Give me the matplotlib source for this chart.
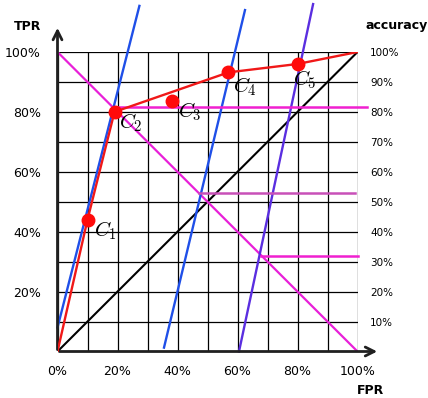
import numpy as np
import matplotlib.pyplot as plt

plt.rcParams['mathtext.fontset'] = 'cm'

# classifier points (FPR, TPR)
names = ['$C_1$', '$C_2$', '$C_3$', '$C_4$', '$C_5$']
fpr = [0.10, 0.19, 0.38, 0.57, 0.80]
tpr = [0.44, 0.80, 0.837, 0.932, 0.96]
label_dx = [0.02, 0.015, 0.02, 0.015, -0.015]
label_dy = [-0.075, -0.075, -0.075, -0.085, -0.09]

# convex hull of the ROC points
hull_x = [0.0, 0.10, 0.19, 0.57, 0.80, 1.0]
hull_y = [0.0, 0.44, 0.80, 0.932, 0.96, 1.0]

# iso-performance lines: (x start, y start, x end, y end)
iso_lines = [
    (0.0, 0.08, 0.273, 1.154, '#1f4fe8'),
    (0.355, 0.013, 0.625, 1.14, '#1f4fe8'),
    (0.605, 0.0, 0.852, 1.16, '#5a2ee0'),
]

# accuracy levels marked with horizontal lines (start x, level, end x)
acc_lines = [
    (0.19, 0.818, 1.03, '#f020d0'),
    (0.47, 0.53, 0.99, '#c850b8'),
    (0.677, 0.32, 1.0, '#f020d0'),
]

ticks = np.arange(0, 1.01, 0.1)
tick_labels_xy = ['0%', '20%', '40%', '60%', '80%', '100%']
acc_labels = ['10%', '20%', '30%', '40%', '50%', '60%', '70%', '80%', '90%', '100%']

fig = plt.figure(figsize=(4.28, 3.98), dpi=100)
ax = fig.add_axes([57.5 / 428, 1 - 351.5 / 398, 300 / 428, 299.5 / 398])
ax.set_xlim(0, 1)
ax.set_ylim(0, 1)
for s in ax.spines.values():
    s.set_visible(False)

# grid
for t in ticks:
    ax.plot([t, t], [0, 1], color='black', lw=0.9, zorder=1)
    ax.plot([0, 1], [t, t], color='black', lw=0.9, zorder=1)

ax.set_xticks(np.arange(0, 1.01, 0.2))
ax.set_xticklabels(tick_labels_xy)
ax.set_yticks(np.arange(0, 1.01, 0.2))
ax.set_yticklabels([''] + tick_labels_xy[1:])
ax.tick_params(length=0, labelsize=9)
ax.tick_params(axis='x', pad=10)
ax.tick_params(axis='y', pad=12)

ax2 = ax.twinx()
ax2.set_ylim(0, 1)
for s in ax2.spines.values():
    s.set_visible(False)
ax2.set_yticks(ticks[1:])
ax2.set_yticklabels(acc_labels)
ax2.tick_params(length=0, labelsize=7.5, pad=9)

# diagonals
ax.plot([0, 1], [0, 1], color='black', lw=1.5, zorder=2)
ax.plot([0, 1], [1, 0], color='#e820d8', lw=1.6, zorder=2)

for x0, y0, x1, y1, c in iso_lines:
    ax.plot([x0, x1], [y0, y1], color=c, lw=1.7, clip_on=False, zorder=3)

for x0, lvl, x1, c in acc_lines:
    ax.plot([x0, x1], [lvl, lvl], color=c, lw=1.8, clip_on=False, zorder=3)

ax.plot(hull_x, hull_y, color='#f01818', lw=1.7, zorder=4)
ax.plot(fpr, tpr, 'o', color='#ff0a0a', ms=9, zorder=5)

for n, x, y, dx, dy in zip(names, fpr, tpr, label_dx, label_dy):
    ax.text(x + dx, y + dy, n, fontsize=15, va='bottom', ha='left', zorder=6)

# axes with arrows
ax.annotate('', xy=(0, 1.09), xytext=(0, -0.003), annotation_clip=False,
            arrowprops=dict(arrowstyle='->', lw=2, color='#202020', mutation_scale=16))
ax.annotate('', xy=(1.075, 0), xytext=(-0.003, 0), annotation_clip=False,
            arrowprops=dict(arrowstyle='->', lw=2, color='#202020', mutation_scale=16))

fig.text(14 / 428, 1 - 26 / 398, 'TPR', fontsize=9, fontweight='bold', va='center')
fig.text(365 / 428, 1 - 26 / 398, 'accuracy', fontsize=9, fontweight='bold', va='center')
fig.text(357 / 428, 1 - 390 / 398, 'FPR', fontsize=9, fontweight='bold', va='center')

fig.savefig('out.png', dpi=100)
